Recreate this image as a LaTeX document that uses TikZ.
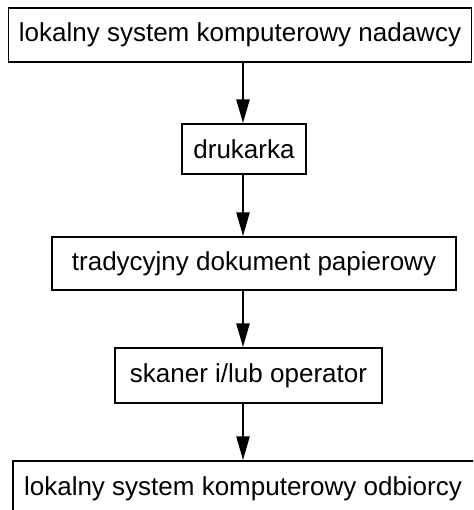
\documentclass[tikz,border=0pt]{standalone}
\usepackage{fontspec}
\setmainfont{Liberation Sans}
\usetikzlibrary{arrows.meta}
\begin{document}
\begin{tikzpicture}[x=1pt,y=-1pt,
  box/.style={draw, line width=1.4pt, inner sep=0pt, font=\fontsize{26pt}{31pt}\selectfont},
  flow/.style={line width=2.4pt, -{Triangle[length=24pt,width=13pt]}}]
  \useasboundingbox (0,0) rectangle (473,510);
  \clip (0,0) rectangle (473,510);
  \coordinate (axis) at (243,0);
  \node[box, minimum width=463pt, minimum height=54pt] (b1) at (240,35)
    {lokalny system komputerowy nadawcy};
  \node[box, minimum width=124pt, minimum height=50pt] (b2) at (244,149)
    {drukarka};
  \node[box, minimum width=404pt, minimum height=53pt] (b3) at (254,263.5)
    {tradycyjny dokument papierowy};
  \node[box, minimum width=267pt, minimum height=55pt] (b4) at (248.5,375.5)
    {skaner i/lub operator};
  \node[box, minimum width=470pt, minimum height=56pt] (b5) at (248,489)
    {\hspace*{-10pt}lokalny system komputerowy odbiorcy};
  \draw[flow] (b1.south -| axis) -- (b2.north -| axis);
  \draw[flow] (b2.south -| axis) -- (b3.north -| axis);
  \draw[flow] (b3.south -| axis) -- (b4.north -| axis);
  \draw[flow] (b4.south -| axis) -- (b5.north -| axis);
\end{tikzpicture}
\end{document}
